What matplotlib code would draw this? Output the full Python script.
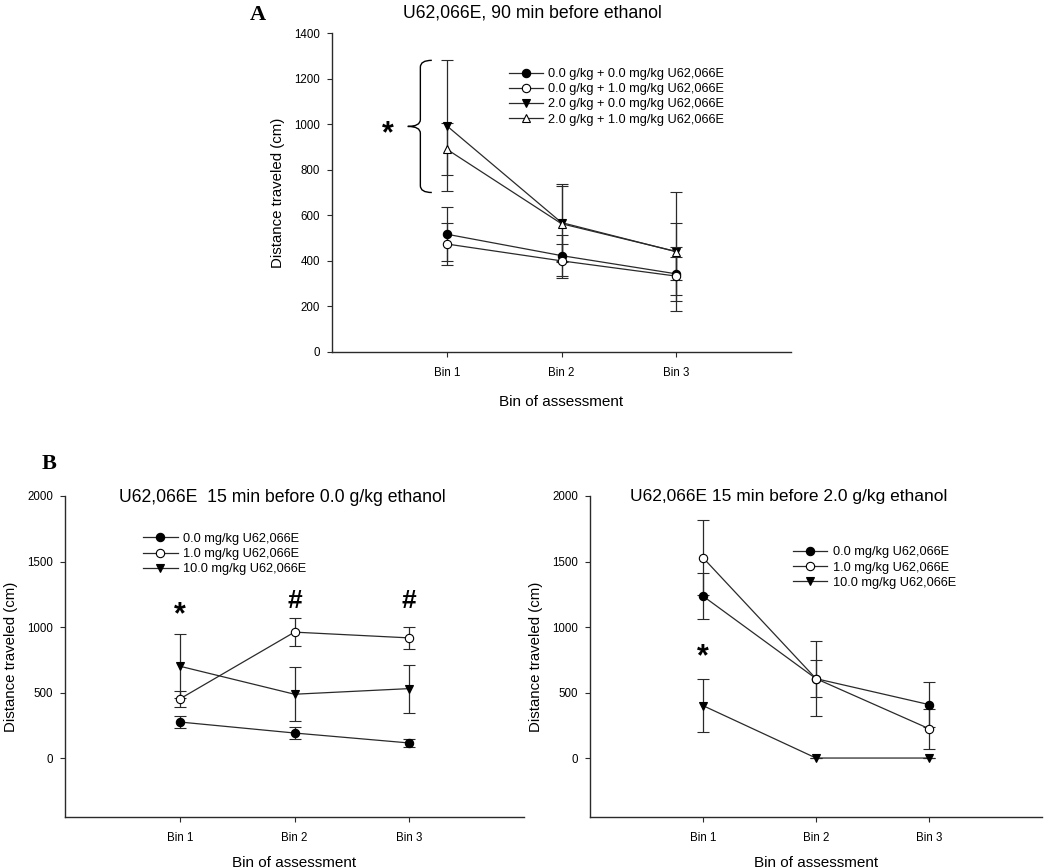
import matplotlib
matplotlib.use("Agg")
import matplotlib.pyplot as plt
import numpy as np
from matplotlib.path import Path
from matplotlib.patches import PathPatch

plt.rcParams['font.family'] = ['Liberation Sans', 'DejaVu Sans']

# ---- data ----
bins = [1, 2, 3]
bin_labels = ["Bin 1", "Bin 2", "Bin 3"]

# panel A: U62,066E 90 min before ethanol
a_labels = ["0.0 g/kg + 0.0 mg/kg U62,066E", "0.0 g/kg + 1.0 mg/kg U62,066E",
            "2.0 g/kg + 0.0 mg/kg U62,066E", "2.0 g/kg + 1.0 mg/kg U62,066E"]
a_means = [[517, 423, 343], [474, 400, 333], [993, 568, 440], [890, 563, 441]]
a_sem = [[118, 89, 117], [94, 76, 83], [287, 168, 262], [113, 166, 125]]
a_markers = [('o', 'black'), ('o', 'white'), ('v', 'black'), ('^', 'white')]

# panel B: 15 min before 0.0 / 2.0 g/kg ethanol
b_labels = ["0.0 mg/kg U62,066E", "1.0 mg/kg U62,066E", "10.0 mg/kg U62,066E"]
b_markers = [('o', 'black'), ('o', 'white'), ('v', 'black')]
b0_means = [[275, 191, 115], [451, 961, 917], [701, 487, 530]]
b0_sem = [[48, 45, 33], [58, 108, 86], [242, 207, 183]]
b2_means = [[1236, 606, 408], [1529, 606, 224], [400, 0, 0]]
b2_sem = [[175, 139, 173], [288, 287, 153], [203, 0, 0]]

# significance marks
a_bracket = (700, 1280)
b0_marks = [(1, 1090, '*'), (2, 1195, '#'), (3, 1195, '#')]
b2_marks = [(1, 770, '*')]

W, H = 1050, 868
fig = plt.figure(figsize=(W / 100, H / 100), dpi=100)
lc = '#2a2a2a'


def px_axes(l, r, t, b):
    return fig.add_axes([l / W, 1 - b / H, (r - l) / W, (b - t) / H])


def style(ax, ylim, yticks, xpad):
    ax.set_xlim(0, 4)
    ax.set_ylim(*ylim)
    ax.set_yticks(yticks)
    ax.set_xticks(bins)
    ax.set_xticklabels(bin_labels)
    for s in ['top', 'right']:
        ax.spines[s].set_visible(False)
    for s in ['left', 'bottom']:
        ax.spines[s].set_color(lc)
        ax.spines[s].set_linewidth(1.0)
    ax.tick_params(direction='out', length=3.5, width=0.8, color=lc, labelsize=8.3)
    ax.tick_params(axis='y', pad=5)
    ax.tick_params(axis='x', pad=7)
    ax.set_ylabel("Distance traveled (cm)", fontsize=10.8, labelpad=7)
    ax.set_xlabel("Bin of assessment", fontsize=11, labelpad=xpad)


def draw(ax, means, sems, markers, labels):
    for m, e, (mk, fc), lab in zip(means, sems, markers, labels):
        ax.errorbar(bins, m, yerr=e, color=lc, lw=0.9, elinewidth=0.9,
                    capsize=4.5, capthick=0.9, marker=mk, markersize=6,
                    markerfacecolor=fc, markeredgecolor='black',
                    markeredgewidth=0.8, label=lab)


def legend(ax, x, y):
    h, l = ax.get_legend_handles_labels()
    h = [hh[0] for hh in h]
    ax.legend(h, l, loc='upper left', bbox_to_anchor=(x, y), frameon=False,
              fontsize=9.2, handlelength=2.7, handletextpad=0.4,
              labelspacing=0.25, borderpad=0, borderaxespad=0)


# ---- panel A ----
axA = px_axes(332, 791, 33, 352)
draw(axA, a_means, a_sem, a_markers, a_labels)
style(axA, (0, 1400), np.arange(0, 1401, 200), 12)
legend(axA, 0.385, 0.89)
lo, hi = a_bracket
mid = (lo + hi) / 2
verts = [(0.87, hi), (0.77, hi), (0.77, hi - 30), (0.77, mid + 30),
         (0.77, mid), (0.66, mid), (0.77, mid), (0.77, mid - 30),
         (0.77, lo + 30), (0.77, lo), (0.87, lo)]
codes = [Path.MOVETO, Path.CURVE3, Path.CURVE3, Path.LINETO,
         Path.CURVE3, Path.CURVE3, Path.CURVE3, Path.CURVE3,
         Path.LINETO, Path.CURVE3, Path.CURVE3]
axA.add_patch(PathPatch(Path(verts, codes), fill=False, edgecolor='black',
                        lw=1.0, clip_on=False))
axA.text(0.49, mid - 35, '*', fontsize=22, fontweight='bold', ha='center',
         va='center')

# ---- panel B left ----
axB0 = px_axes(65, 524, 496, 817)
draw(axB0, b0_means, b0_sem, b_markers, b_labels)
style(axB0, (-450, 2000), np.arange(0, 2001, 500), 9)
legend(axB0, 0.17, 0.885)
for x, y, s in b0_marks:
    axB0.text(x, y, s, fontsize=22 if s == '*' else 19, fontweight='bold',
              ha='center', va='center')

# ---- panel B right ----
axB2 = px_axes(590, 1042, 496, 817)
draw(axB2, b2_means, b2_sem, b_markers, b_labels)
style(axB2, (-450, 2000), np.arange(0, 2001, 500), 9)
legend(axB2, 0.449, 0.843)
for x, y, s in b2_marks:
    axB2.text(x, y, s, fontsize=22, fontweight='bold', ha='center',
              va='center')

# ---- titles and panel letters ----
fig.text(532 / W, 1 - 13 / H, "U62,066E, 90 min before ethanol", fontsize=12.7,
         ha='center', va='center')
fig.text(282 / W, 1 - 498 / H, "U62,066E  15 min before 0.0 g/kg ethanol",
         fontsize=12.7, ha='center', va='center')
fig.text(789 / W, 1 - 496 / H, "U62,066E 15 min before 2.0 g/kg ethanol",
         fontsize=12.5, ha='center', va='center')
fig.text(258 / W, 1 - 15 / H, "A", fontsize=16, fontweight='bold',
         family='Liberation Serif', ha='center', va='center')
fig.text(49 / W, 1 - 464 / H, "B", fontsize=16, fontweight='bold',
         family='Liberation Serif', ha='center', va='center')

fig.savefig("out.png", dpi=100)
